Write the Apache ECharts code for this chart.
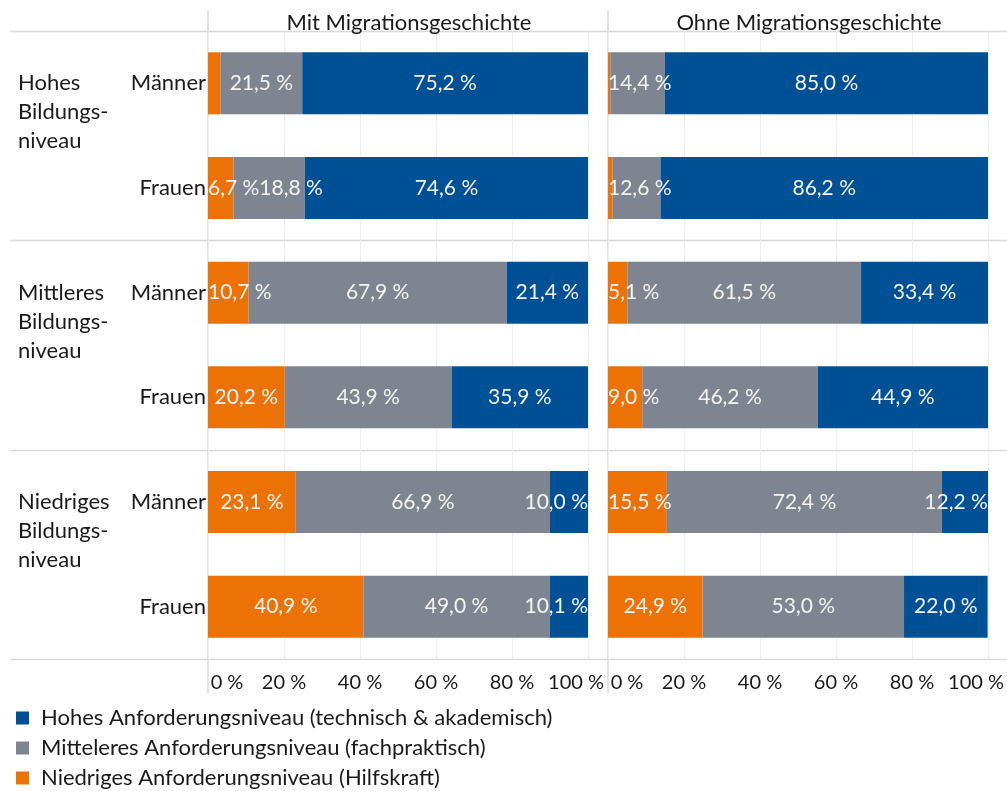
<!DOCTYPE html>
<html>
<head>
<meta charset="utf-8">
<script src="https://cdn.jsdelivr.net/npm/echarts@6/dist/echarts.min.js"></script>
<style>
  html, body { margin: 0; padding: 0; background: #fff; }
  #main { width: 1007px; height: 791px; }
</style>
</head>
<body>
<div id="main"></div>
<script>
var rowLabels = ['Männer', 'Frauen', 'Männer', 'Frauen', 'Männer', 'Frauen'];
var groupLabels = ['Hohes\nBildungs-\nniveau', 'Mittleres\nBildungs-\nniveau', 'Niedriges\nBildungs-\nniveau'];
var panelTitles = ['Mit Migrationsgeschichte', 'Ohne Migrationsgeschichte'];
var seriesNames = [
    'Niedriges Anforderungsniveau (Hilfskraft)',
    'Mitteleres Anforderungsniveau (fachpraktisch)',
    'Hohes Anforderungsniveau (technisch & akademisch)'
];
var colors = ['#ec7206', '#7f8590', '#005096'];
var xTicks = [0, 20, 40, 60, 80, 100];

// Mit Migrationsgeschichte
var mitNiedrig = [3.3, 6.7, 10.7, 20.2, 23.1, 40.9];
var mitMittel = [21.5, 18.8, 67.9, 43.9, 66.9, 49.0];
var mitHoch = [75.2, 74.6, 21.4, 35.9, 10.0, 10.1];
// Ohne Migrationsgeschichte
var ohneNiedrig = [0.6, 1.2, 5.1, 9.0, 15.5, 24.9];
var ohneMittel = [14.4, 12.6, 61.5, 46.2, 72.4, 53.0];
var ohneHoch = [85.0, 86.2, 33.4, 44.9, 12.2, 22.0];

var FONT = 'Lato';
var FS = 22;      // titles, row labels, legend
var FS_LBL = 21;  // values in bars
var FS_TICK = 20; // x axis
var TXT = '#1a1a1a';
var gridTop = 31, gridH = 628, gridW = 380;
var gridLefts = [208, 608];
var catH = gridH / rowLabels.length;

var ctx = document.createElement('canvas').getContext('2d');
ctx.font = FS_LBL + 'px ' + FONT;

function fmt(v) {
    return v.toFixed(1).replace('.', ',') + ' %';
}

// labels like Excel: keep inside plot, no overlap with previous label
function buildPanel(arrs) {
    var out = arrs.map(function () { return []; });
    for (var i = 0; i < rowLabels.length; i++) {
        var cum = 0, prevRight = 0;
        for (var s = 0; s < arrs.length; s++) {
            var v = arrs[s][i];
            var show = v >= 4;
            var item = { value: v, label: { show: show } };
            if (show) {
                var w = ctx.measureText(fmt(v)).width;
                var c = gridW * (cum + v / 2) / 100;
                var left = Math.max(c - w / 2, prevRight);
                left = Math.min(left, gridW - w);
                item.label.offset = [left + w / 2 - c, 0];
                prevRight = left + w;
            }
            out[s].push(item);
            cum += v;
        }
    }
    return out;
}

var panels = [buildPanel([mitNiedrig, mitMittel, mitHoch]), buildPanel([ohneNiedrig, ohneMittel, ohneHoch])];

var groupPerRow = rowLabels.map(function (r, i) {
    return i % 2 === 0 ? '\n\n' + groupLabels[i / 2] : '';
});

var series = [];
panels.forEach(function (p, k) {
    p.forEach(function (d, s) {
        series.push({
            name: seriesNames[s],
            type: 'bar',
            stack: 'p' + k,
            xAxisIndex: k,
            yAxisIndex: k === 0 ? 0 : 2,
            barWidth: 62,
            data: d,
            itemStyle: { color: colors[s] },
            label: {
                position: 'inside',
                color: '#f4f4f4',
                fontFamily: FONT,
                fontSize: FS_LBL,
                formatter: function (pp) { return fmt(pp.value); }
            },
            emphasis: { disabled: true }
        });
    });
});

var lineColor = '#d9d9d9';
var graphics = [];
for (var g = 0; g <= 3; g++) {
    var y = Math.round(gridTop + g * 2 * catH) + 0.5;
    graphics.push({ type: 'line', shape: { x1: 10, y1: y, x2: 1007, y2: y }, style: { stroke: lineColor, lineWidth: 1.5 }, z: 0 });
}
gridLefts.forEach(function (x) {
    graphics.push({ type: 'line', shape: { x1: x, y1: 10, x2: x, y2: 693 }, style: { stroke: lineColor, lineWidth: 1.5 }, z: 0 });
});

var xAxes = gridLefts.map(function (x, k) {
    return {
        type: 'value', gridIndex: k, min: 0, max: 100, interval: 20,
        axisLine: { show: false },
        axisTick: { show: false },
        splitLine: { lineStyle: { color: '#eeeeee', width: 1 } },
        axisLabel: {
            margin: 14,
            color: TXT,
            fontFamily: FONT,
            fontSize: FS_TICK,
            formatter: function (v) {
                if (v === xTicks[0]) return '{min|' + v + ' %}';
                if (v === xTicks[xTicks.length - 1]) return '{max|' + v + ' %}';
                return v + ' %';
            },
            rich: {
                min: { fontFamily: FONT, fontSize: FS_TICK, color: TXT, padding: [0, 0, 0, 38] },
                max: { fontFamily: FONT, fontSize: FS_TICK, color: TXT, padding: [0, 24, 0, 0] }
            }
        }
    };
});

var option = {
    animation: false,
    textStyle: { fontFamily: FONT },
    title: panelTitles.map(function (t, k) {
        return {
            text: t, left: gridLefts[k] + gridW / 2 + 6, top: 7, textAlign: 'center',
            textStyle: { fontFamily: FONT, fontSize: FS, fontWeight: 'normal', color: TXT }
        };
    }),
    legend: {
        orient: 'vertical', left: 16, top: 707, padding: 0,
        itemWidth: 13, itemHeight: 13, itemGap: 8,
        icon: 'rect',
        data: [seriesNames[2], seriesNames[1], seriesNames[0]],
        textStyle: { fontFamily: FONT, fontSize: FS, lineHeight: 22, color: TXT, padding: [0, 0, 0, 7] }
    },
    grid: gridLefts.map(function (x) {
        return { left: x, top: gridTop, width: gridW, height: gridH };
    }),
    xAxis: xAxes,
    yAxis: [
        {
            type: 'category', gridIndex: 0, data: rowLabels, inverse: true,
            axisLine: { show: false }, axisTick: { show: false },
            axisLabel: { margin: 2, interval: 0, color: TXT, fontFamily: FONT, fontSize: FS }
        },
        {
            type: 'category', gridIndex: 0, data: groupPerRow, inverse: true, position: 'left',
            axisLine: { show: false }, axisTick: { show: false },
            axisLabel: { margin: 190, align: 'left', interval: 0, lineHeight: 29, color: TXT, fontFamily: FONT, fontSize: FS }
        },
        {
            type: 'category', gridIndex: 1, data: rowLabels, inverse: true,
            axisLine: { show: false }, axisTick: { show: false }, axisLabel: { show: false }
        }
    ],
    graphic: graphics,
    series: series
};

var chart = echarts.init(document.getElementById('main'));
chart.setOption(option);
</script>
</body>
</html>
